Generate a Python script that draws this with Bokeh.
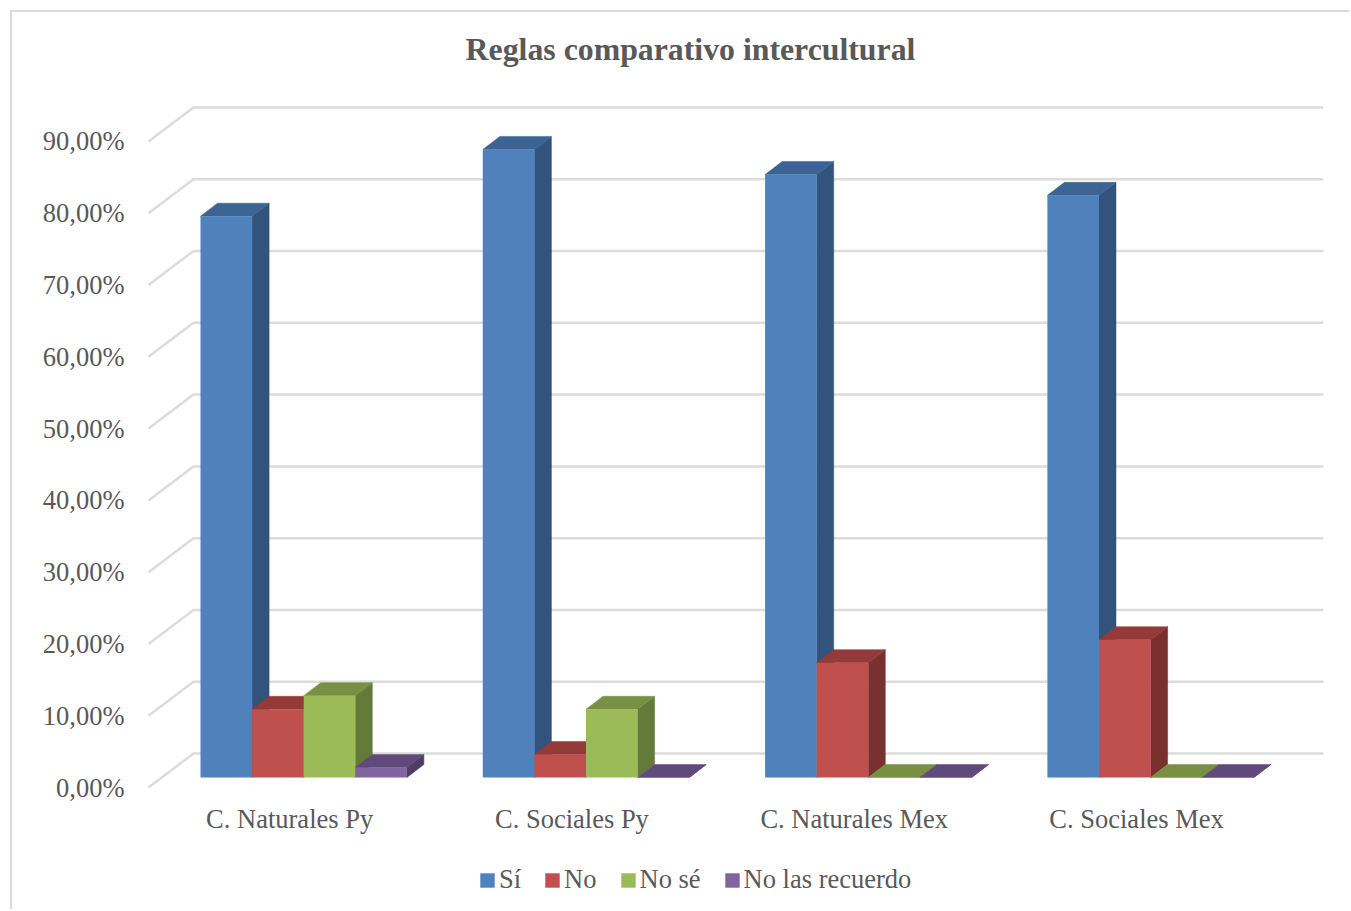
from bokeh.plotting import figure
from bokeh.models import Range1d, FixedTicker, Legend, LegendItem, Label
from bokeh.embed import file_html
from bokeh.resources import INLINE

title_text = "Reglas comparativo intercultural"
categories = ["C. Naturales Py", "C. Sociales Py", "C. Naturales Mex", "C. Sociales Mex"]
si = [78.2, 87.5, 84.0, 81.1]
no = [9.5, 3.2, 16.0, 19.2]
no_se = [11.4, 9.5, 0.0, 0.0]
no_recuerdo = [1.4, 0.0, 0.0, 0.0]
series_names = ["Sí", "No", "No sé", "No las recuerdo"]
tick_values = [0, 10, 20, 30, 40, 50, 60, 70, 80, 90]
tick_labels = ["0,00%", "10,00%", "20,00%", "30,00%", "40,00%", "50,00%", "60,00%", "70,00%", "80,00%", "90,00%"]

front_colors = ["#4f81bd", "#c0504d", "#9bbb59", "#8064a2"]
side_colors = ["#31537c", "#79302e", "#647a38", "#4f3d66"]
top_colors = ["#3b6495", "#943a38", "#789043", "#604a7b"]
TEXT = "#595959"
GRID = "#dcdcdc"
FONT = "Liberation Serif"
LABEL_SIZE = "26.5px"

PX_X = 282.3   # pixels per category
PX_Y = 7.178   # pixels per percent


def ux(px):
    return px / PX_X


def uy(px):
    return px / PX_Y


GAP = ux(52)
BAR_W = ux(51.6)
WALL_DX, WALL_DY = ux(45), uy(34)
BASE = uy(10)
DEPTH_X, DEPTH_Y = ux(17), uy(13)

p = figure(
    width=1339, height=899, output_backend="svg", toolbar_location=None,
    x_range=Range1d(-ux(1), ux(1175)), y_range=Range1d(-uy(119), uy(775)),
    min_border_left=135, min_border_right=28, min_border_top=0, min_border_bottom=5,
    outline_line_color=None, background_fill_color="white", border_fill_color="white",
)
p.margin = (10, 0, 0, 10)
p.styles = {"border-top": "2px solid #d9d9d9", "border-left": "2px solid #d9d9d9"}

p.add_layout(Label(x=ux(542), y=uy(738), text=title_text, text_align="center", text_baseline="middle",
                   text_font=FONT, text_font_size="31.8px", text_font_style="bold",
                   text_color=TEXT))
p.grid.visible = False

# back wall gridlines and side-wall diagonals
xs = [[0, WALL_DX, WALL_DX + ux(1130)] for _ in tick_values]
ys = [[t, t + WALL_DY, t + WALL_DY] for t in tick_values]
p.multi_line(xs, ys, line_color=GRID, line_width=2.5)

# 3D bars, left to right
front = []
for k, vals in enumerate([si, no, no_se, no_recuerdo]):
    lefts = [i + GAP + k * BAR_W for i in range(len(categories))]
    rights = [l + BAR_W for l in lefts]
    tops = [v + BASE for v in vals]
    side_x = [[r, r + DEPTH_X, r + DEPTH_X, r] for r in rights]
    side_y = [[BASE, BASE + DEPTH_Y, t + DEPTH_Y, t] for t in tops]
    p.patches(side_x, side_y, fill_color=side_colors[k], line_color=side_colors[k], line_width=0.5)
    top_x = [[l, l + DEPTH_X, r + DEPTH_X, r] for l, r in zip(lefts, rights)]
    top_y = [[t, t + DEPTH_Y, t + DEPTH_Y, t] for t in tops]
    p.patches(top_x, top_y, fill_color=top_colors[k], line_color=top_colors[k], line_width=0.5)
    front.append(p.quad(left=lefts, right=rights, bottom=[BASE] * len(vals), top=tops,
                        fill_color=front_colors[k], line_color=None))

# axes
p.yaxis.ticker = FixedTicker(ticks=tick_values)
p.yaxis.major_label_overrides = dict(zip(tick_values, tick_labels))
p.yaxis.major_label_standoff = 17
p.yaxis.major_tick_line_color = None
p.yaxis.minor_tick_line_color = None
p.yaxis.axis_line_color = None
p.yaxis.major_label_text_font = FONT
p.yaxis.major_label_text_font_size = LABEL_SIZE
p.yaxis.major_label_text_color = TEXT

cat_pos = [i + 0.5 for i in range(len(categories))]
p.xaxis.fixed_location = 0
p.xaxis.ticker = FixedTicker(ticks=cat_pos)
p.xaxis.major_label_overrides = dict(zip(cat_pos, categories))
p.xaxis.major_label_standoff = 10
p.xaxis.major_tick_line_color = None
p.xaxis.minor_tick_line_color = None
p.xaxis.axis_line_color = None
p.xaxis.major_label_text_font = FONT
p.xaxis.major_label_text_font_size = LABEL_SIZE
p.xaxis.major_label_text_color = TEXT

legend = Legend(
    items=[LegendItem(label=n, renderers=[r]) for n, r in zip(series_names, front)],
    orientation="horizontal", location=(331, 11),
    glyph_width=18, glyph_height=18, label_standoff=3, spacing=22, padding=0, margin=0,
    border_line_color=None, background_fill_alpha=0,
    label_text_font=FONT, label_text_font_size=LABEL_SIZE, label_text_color=TEXT,
)
p.add_layout(legend, "center")

open("out.html", "w").write(file_html(p, INLINE))
